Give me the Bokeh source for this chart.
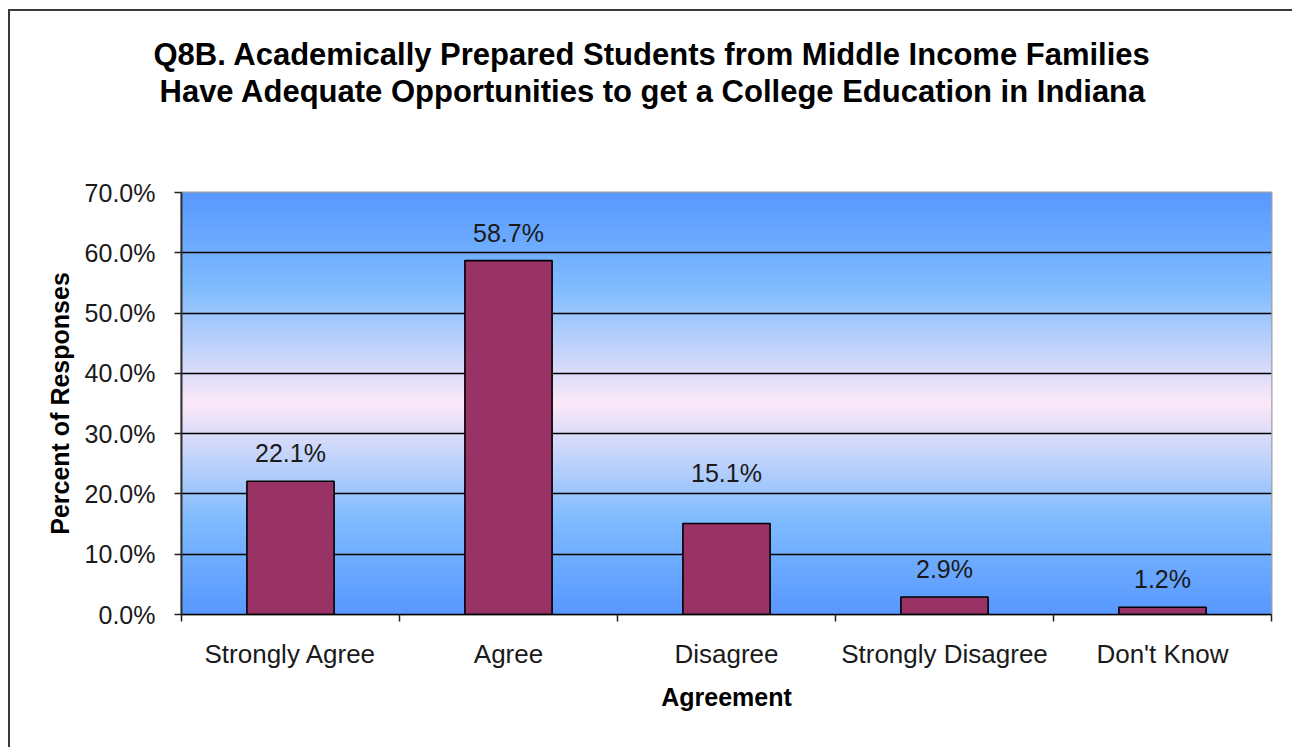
import numpy as np
from bokeh.plotting import figure
from bokeh.models import Range1d, FixedTicker, PrintfTickFormatter, Title, LinearAxis, ColumnDataSource
from bokeh.core.properties import value
from bokeh.embed import file_html
from bokeh.resources import INLINE

# ---- data ----
title_lines = ["Q8B. Academically Prepared Students from Middle Income Families",
               "Have Adequate Opportunities to get a College Education in Indiana"]
categories = ["Strongly Agree", "Agree", "Disagree", "Strongly Disagree", "Don't Know"]
percents = [22.1, 58.7, 15.1, 2.9, 1.2]
y_ticks = [0, 10, 20, 30, 40, 50, 60, 70]
x_title = "Agreement"
y_title = "Percent of Responses"

# styling: pixel lift of each value label above its bar
label_lift = [-14, -14, -36, -14, -14]

FONT = "Liberation Sans"
n = len(categories)
centers = [i + 0.5 for i in range(n)]
bounds = [float(i) for i in range(n + 1)]
labels = ["%.1f%%" % v for v in percents]

W, H = 1284, 738
p = figure(width=W, height=H,
           x_range=Range1d(0, n), y_range=Range1d(y_ticks[0], y_ticks[-1]),
           output_backend="svg", toolbar_location=None,
           min_border_left=171, min_border_right=23,
           min_border_top=181, min_border_bottom=135)
p.styles = {"margin-left": "8px", "margin-top": "9px",
            "border-top": "2px solid #3a3a3a", "border-left": "2px solid #3a3a3a"}
p.background_fill_color = "white"
p.border_fill_color = "white"
p.outline_line_color = "#a0a0a0"
p.outline_line_width = 2

# ---- gradient background of the plot area (style only) ----
N = 400
t = np.linspace(0, 1, N)
d = np.abs(t - 0.5) * 2
stops_d = [0.0, 0.55, 1.0]
stops_c = np.array([[253, 233, 248], [128, 188, 255], [88, 152, 255]], dtype=float)
rgb = np.stack([np.interp(d, stops_d, stops_c[:, k]) for k in range(3)], axis=1)
img = np.empty((N, 1), dtype=np.uint32)
view = img.view(dtype=np.uint8).reshape((N, 1, 4))
view[:, 0, 0] = rgb[:, 0].astype(np.uint8)
view[:, 0, 1] = rgb[:, 1].astype(np.uint8)
view[:, 0, 2] = rgb[:, 2].astype(np.uint8)
view[:, 0, 3] = 255
bg = p.image_rgba(image=[img], x=0, y=y_ticks[0], dw=n, dh=y_ticks[-1] - y_ticks[0])
bg.level = "image"

# ---- bars ----
src = ColumnDataSource(dict(x=centers, top=percents, label=labels, lift=label_lift))
p.vbar(x="x", top="top", bottom=0, width=0.4, source=src,
       fill_color="#993366", line_color="black", line_width=1.6)

p.text(x="x", y="top", text="label", y_offset="lift", source=src,
       text_align="center", text_baseline="bottom",
       text_font_size="25px", text_font=value(FONT), text_color="#1a1a1a")

# ---- grid ----
p.xgrid.visible = False
p.ygrid.ticker = FixedTicker(ticks=y_ticks)
p.ygrid.grid_line_color = "black"
p.ygrid.grid_line_width = 1.3

# ---- y axis ----
ya = p.yaxis[0]
ya.ticker = FixedTicker(ticks=y_ticks)
ya.formatter = PrintfTickFormatter(format="%.1f%%")
ya.axis_line_color = "#333333"
ya.axis_line_width = 2
ya.major_tick_out = 7
ya.major_tick_in = 0
ya.major_tick_line_color = "#222222"
ya.major_tick_line_width = 1.5
ya.minor_tick_out = 0
ya.minor_tick_in = 0
ya.major_label_standoff = 19
ya.major_label_text_font = FONT
ya.major_label_text_font_size = "25px"
ya.major_label_text_color = "#1a1a1a"
ya.axis_label = y_title
ya.axis_label_text_font = FONT
ya.axis_label_text_font_style = "bold"
ya.axis_label_text_font_size = "25px"
ya.axis_label_text_color = "black"
ya.axis_label_standoff = 8

# ---- x axis ----
xa = p.xaxis[0]
xa.ticker = FixedTicker(ticks=centers, minor_ticks=bounds)
xa.major_label_overrides = {c: name for c, name in zip(centers, categories)}
xa.axis_line_color = "black"
xa.axis_line_width = 1.5
xa.major_tick_out = 0
xa.major_tick_in = 0
xa.minor_tick_out = 7
xa.minor_tick_in = 0
xa.minor_tick_line_color = "#222222"
xa.minor_tick_line_width = 1.5
xa.major_label_standoff = 17
xa.major_label_text_font = FONT
xa.major_label_text_font_size = "26px"
xa.major_label_text_color = "#1a1a1a"
xa.axis_label = x_title
xa.axis_label_text_font = FONT
xa.axis_label_text_font_style = "bold"
xa.axis_label_text_font_size = "25px"
xa.axis_label_text_color = "black"
xa.axis_label_standoff = 11

# ---- invisible spacer between plot area and title ----
spacer_tick = n / 2
spacer = LinearAxis(ticker=FixedTicker(ticks=[spacer_tick]), axis_line_color=None,
                    major_tick_line_color=None, minor_tick_line_color=None,
                    major_tick_out=83, major_tick_in=0, minor_tick_out=0, minor_tick_in=0,
                    major_label_overrides={spacer_tick: ""},
                    major_label_text_font_size="0px", major_label_standoff=0)
p.add_layout(spacer, "above")

# ---- title (two lines) ----
p.add_layout(Title(text=title_lines[1], align="left", offset=-22, standoff=1,
                   text_font=FONT, text_font_style="bold",
                   text_font_size="31px", text_color="black"), "above")
p.add_layout(Title(text=title_lines[0], align="left", offset=-28, standoff=0,
                   text_font=FONT, text_font_style="bold",
                   text_font_size="31px", text_color="black"), "above")

open("out.html", "w").write(file_html(p, INLINE))
